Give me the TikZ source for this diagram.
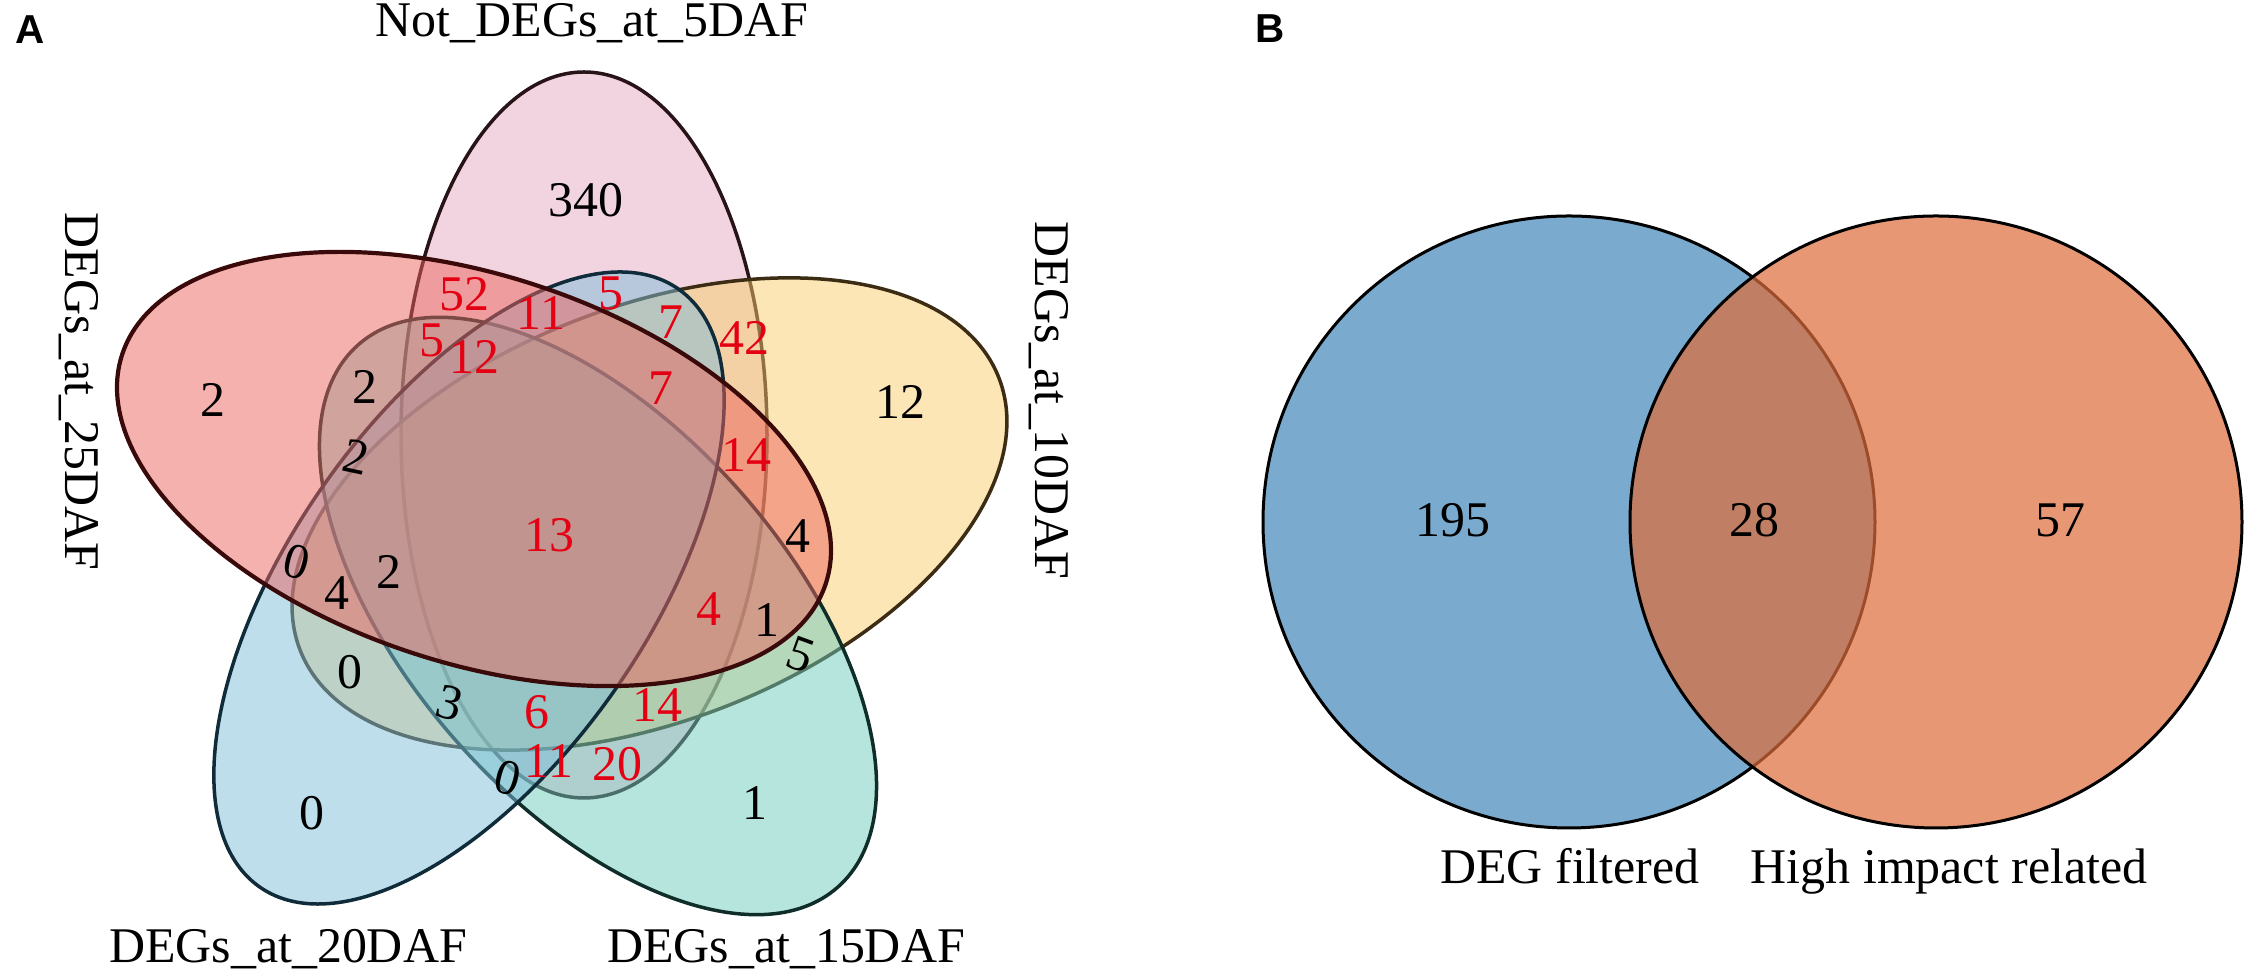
\documentclass[tikz,border=0pt]{standalone}
\usepackage{fontspec}
\setmainfont{Liberation Serif}
\newfontfamily\panelfont{Liberation Sans}
\definecolor{pinkf}{RGB}{227,169,191}
\definecolor{yellowf}{RGB}{249,205,108}
\definecolor{greenf}{RGB}{109,203,189}
\definecolor{bluef}{RGB}{127,189,218}
\definecolor{redf}{RGB}{236,100,94}
\definecolor{pinkd}{RGB}{40,20,24}
\definecolor{yellowd}{RGB}{60,44,20}
\definecolor{greend}{RGB}{15,46,42}
\definecolor{blued}{RGB}{16,44,58}
\definecolor{redd}{RGB}{58,10,10}
\definecolor{numred}{RGB}{228,0,18}
\definecolor{bblue}{RGB}{122,170,205}
\definecolor{borange}{RGB}{222,108,58}
\tikzset{
  vset/.style={line width=0.35mm, fill opacity=0.5, draw opacity=1},
  num/.style={inner sep=0pt, font=\fontsize{14.2}{17}\selectfont},
  rnum/.style={num, text=numred},
  catlabel/.style={inner sep=0pt, anchor=base, font=\fontsize{14.2}{17}\selectfont},
  panel/.style={inner sep=0pt, font=\panelfont\bfseries\fontsize{11.5}{13}\selectfont},
  circ/.style={line width=0.3mm, draw=black}
}
\begin{document}
\begin{tikzpicture}[x=0.1mm,y=-0.1mm]
\useasboundingbox (0,0) rectangle (2248,979);
% ---------- Panel A: five-set Venn ----------
\filldraw[vset, fill=pinkf, draw=pinkd, rotate around={90:(584,435)}] (584,435) ellipse [x radius=363, y radius=183];
\filldraw[vset, fill=yellowf, draw=yellowd, rotate around={21.3:(649.5,514)}] (649.5,514) ellipse [x radius=375, y radius=207];
\filldraw[vset, fill=greenf, draw=greend, rotate around={131.5:(598,616)}] (598,616) ellipse [x radius=362, y radius=189];
\filldraw[vset, fill=bluef, draw=blued, rotate around={55:(469,588)}] (469,588) ellipse [x radius=365, y radius=178];
\filldraw[vset, line width=0.42mm, fill=redf, draw=redd, rotate around={162:(474,469)}] (474,469) ellipse [x radius=370, y radius=194];

\node[panel] (pa) at (30.5,29.5) {A};
\node[catlabel] (c5) at (592,37) {Not\_DEGs\_at\_5DAF};
\node[catlabel, rotate=-90] (c10) at (1035,400.5) {DEGs\_at\_10DAF};
\node[catlabel, rotate=-90] (c25) at (65,391.5) {DEGs\_at\_25DAF};
\node[catlabel] (c20) at (288,963) {DEGs\_at\_20DAF};
\node[catlabel] (c15) at (786,963) {DEGs\_at\_15DAF};

% black counts
\node[num] (k1) at (586,200) {340};
\node[num] (k2) at (213,400) {2};
\node[num] (k3) at (900,402) {12};
\node[num] (k4) at (365,387) {2};
\node[num, rotate=-12] (k5) at (356,457) {2};
\node[num, rotate=-15] (k6) at (297,562) {0};
\node[num] (k7) at (337,593) {4};
\node[num] (k8) at (389,572) {2};
\node[num] (k9) at (798,536) {4};
\node[num] (k10) at (767,620) {1};
\node[num, rotate=-20] (k11) at (801,655) {5};
\node[num] (k12) at (350,672) {0};
\node[num, rotate=-15] (k13) at (450,703) {3};
\node[num, rotate=-15] (k14) at (508,778) {0};
\node[num] (k15) at (312,813) {0};
\node[num] (k16) at (755,803) {1};
% red counts
\node[rnum] (r1) at (464,294) {52};
\node[rnum] (r2) at (541,313) {11};
\node[rnum] (r3) at (611,293) {5};
\node[rnum] (r4) at (671,322) {7};
\node[rnum] (r5) at (744,338) {42};
\node[rnum] (r6) at (432,340) {5};
\node[rnum] (r7) at (474,357) {12};
\node[rnum] (r8) at (661,388) {7};
\node[rnum] (r9) at (746,455) {14};
\node[rnum] (r10) at (549,535) {13};
\node[rnum] (r11) at (709,609) {4};
\node[rnum] (r12) at (537,712) {6};
\node[rnum] (r13) at (657,705) {14};
\node[rnum] (r14) at (549,761) {11};
\node[rnum] (r15) at (617,764) {20};

% ---------- Panel B: two-set Venn ----------
\node[panel] (pb) at (1270,29) {B};
\filldraw[circ, fill=bblue] (1569,522) circle [radius=306];
\filldraw[circ, fill=borange, fill opacity=0.707, draw opacity=1] (1936,522) circle [radius=306];
\node[num] (b1) at (1453,520) {195};
\node[num] (b2) at (1754,520) {28};
\node[num] (b3) at (2060,520) {57};
\node[catlabel] (bl1) at (1570,884) {DEG filtered};
\node[catlabel] (bl2) at (1949,884) {High impact related};
\end{tikzpicture}
\end{document}
